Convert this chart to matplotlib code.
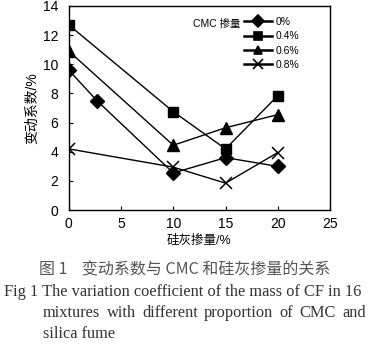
import matplotlib
matplotlib.use("Agg")
import matplotlib.pyplot as plt
from matplotlib.lines import Line2D

plt.rcParams['font.family'] = ['Liberation Sans', 'Noto Sans CJK SC', 'DejaVu Sans']

# silica fume dosage (%) and variation coefficient (%) per CMC dosage
x_cmc0 = [0, 2.7, 10, 15, 20]
y_cmc0 = [9.6, 7.5, 2.55, 3.6, 3.0]
x_cmc04 = [0, 10, 15, 20]
y_cmc04 = [12.7, 6.75, 4.2, 7.85]
x_cmc06 = [0, 10, 15, 20]
y_cmc06 = [10.9, 4.45, 5.65, 6.55]
x_cmc08 = [0, 10, 15, 20]
y_cmc08 = [4.2, 2.95, 1.85, 3.95]
series_labels = ['0%', '0.4%', '0.6%', '0.8%']
markers = ['D', 's', '^', 'x']


def justified(fig, words, x0, x1, y, **kw):
    """Place words on one line spread evenly from x0 to x1 (figure pixels), y as fig fraction."""
    r = fig.canvas.get_renderer()
    items = [fig.text(0, y, w, va='center', ha='left', **kw) for w in words]
    widths = [t.get_window_extent(r).width for t in items]
    gap = (x1 - x0 - sum(widths)) / (len(words) - 1)
    x = x0
    for t, w in zip(items, widths):
        t.set_x(x / fig.bbox.width)
        x += w + gap


fig = plt.figure(figsize=(3.7, 3.52), dpi=100)
ax = fig.add_axes([0.186, 0.403, 0.706, 0.58])

ax.plot(x_cmc0, y_cmc0, color='black', lw=1, marker='D', ms=7, zorder=3)
ax.plot(x_cmc04, y_cmc04, color='black', lw=1, marker='s', ms=7.5, zorder=3)
ax.plot(x_cmc06, y_cmc06, color='black', lw=1, marker='^', ms=8.5, zorder=3)
ax.plot(x_cmc08, y_cmc08, color='black', lw=1, marker='x', ms=8.5, mew=1.1, zorder=3)

ax.set_xlim(0, 25)
ax.set_ylim(0, 14)
ax.set_xticks(range(0, 26, 5))
ax.set_yticks(range(0, 15, 2))
ax.tick_params(direction='in', labelsize=10, length=3, width=0.8)
ax.tick_params(axis='x', pad=5)
ax.tick_params(axis='y', pad=7.5)
for sp in ax.spines.values():
    sp.set_linewidth(1)

ax.set_xlabel('硅灰掺量/%', fontsize=9, labelpad=3)
ax.set_ylabel('变动系数/%', fontsize=10, labelpad=3)

handles = [Line2D([], [], color='black', lw=1.8, marker=m, ms=6 if m != 'x' else 7,
                  mew=1.2) for m in markers]
ax.legend(handles, series_labels, loc='upper left', bbox_to_anchor=(0.672, 0.947),
          frameon=False, fontsize=7.5, handlelength=2.7, labelspacing=0.42,
          handletextpad=0.3, borderpad=0, borderaxespad=0)
ax.text(0.655, 0.913, 'CMC 掺量', transform=ax.transAxes, fontsize=7.5,
        va='center', ha='right')

cap_color = '#555555'
fig.text(0.5, 1 - 270 / 352, '图 1    变动系数与 CMC 和硅灰掺量的关系', ha='center', va='center',
         fontsize=11.5, color=cap_color, family=['Noto Sans CJK SC', 'Liberation Serif'])
eng = dict(fontsize=11.8, family='Liberation Serif', color='#333333')
fig.text(0.012, 1 - 292 / 352, 'Fig 1 The variation coefficient of the mass of CF in 16',
         ha='left', va='center', **eng)
justified(fig, 'mixtures with different proportion of CMC and'.split(),
          43, 366, 1 - 313 / 352, **eng)
fig.text(43 / 370, 1 - 334 / 352, 'silica fume', ha='left', va='center', **eng)

fig.savefig('out.png', dpi=100)
